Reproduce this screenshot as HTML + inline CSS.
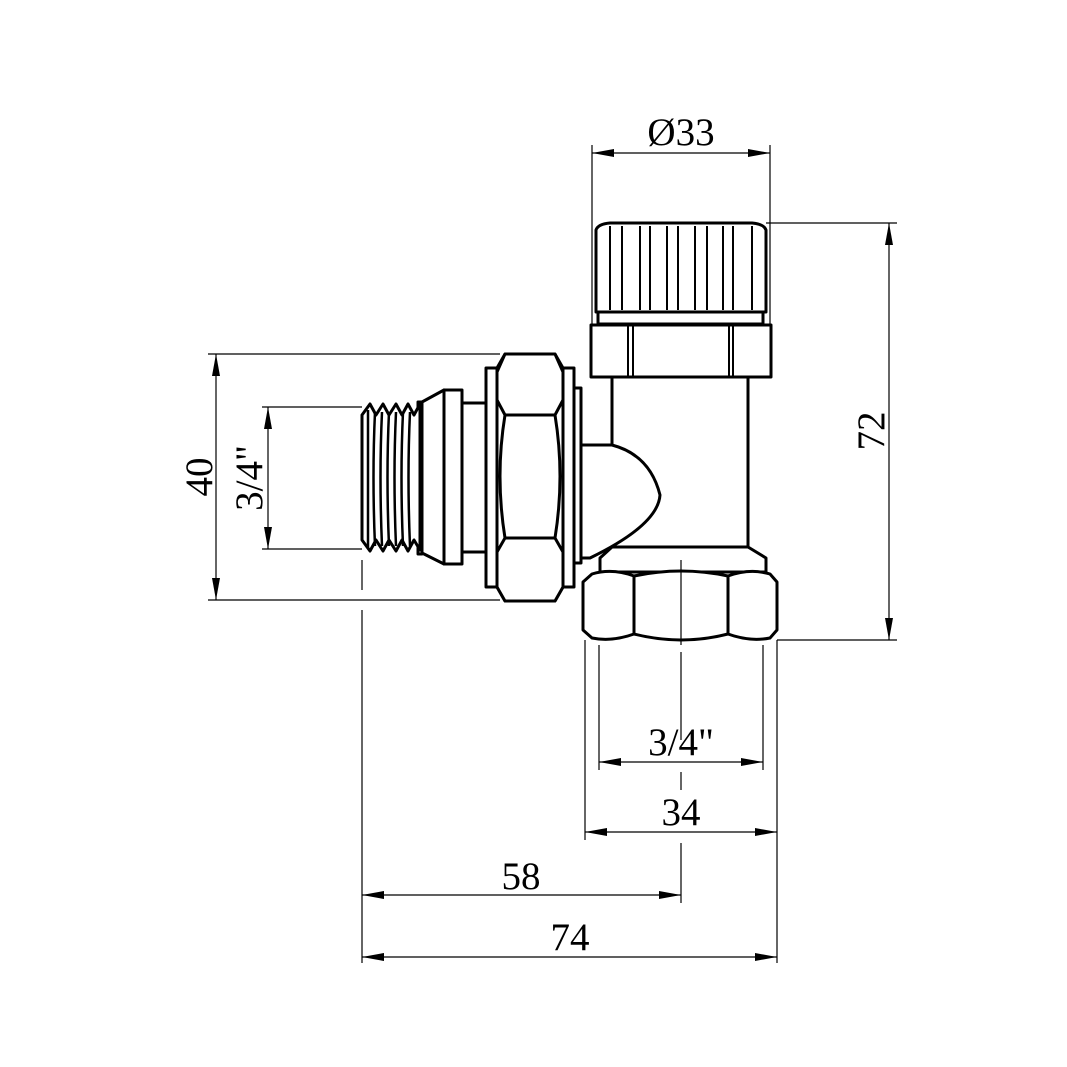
<!DOCTYPE html>
<html><head><style>html,body{margin:0;padding:0;background:#fff}svg{display:block}text{font-family:"Liberation Serif",serif;font-size:39px;fill:#000}</style></head>
<body>
<svg width="1067" height="1067" viewBox="0 0 1067 1067" xmlns="http://www.w3.org/2000/svg">
<defs>
<marker id="a" viewBox="0 0 22 8" refX="22" refY="4" markerWidth="22" markerHeight="8" markerUnits="userSpaceOnUse" orient="auto-start-reverse"><path d="M0,0L22,4L0,8z" fill="#000"/></marker>
</defs>
<g stroke="#000" stroke-width="1.2" fill="none">
<line x1="592" y1="145" x2="592" y2="325"/><line x1="770" y1="145" x2="770" y2="325"/>
<line x1="766" y1="223" x2="897" y2="223"/><line x1="777" y1="640" x2="897" y2="640"/>
<line x1="208" y1="354" x2="500" y2="354"/><line x1="208" y1="600" x2="500" y2="600"/>
<line x1="262" y1="407" x2="362" y2="407"/><line x1="262" y1="549" x2="362" y2="549"/>
<line x1="599" y1="645" x2="599" y2="770"/><line x1="763" y1="645" x2="763" y2="770"/>
<line x1="585" y1="640" x2="585" y2="840"/><line x1="777" y1="640" x2="777" y2="963"/>
<line x1="362" y1="560" x2="362" y2="590"/><line x1="362" y1="610" x2="362" y2="963"/>
<line x1="681" y1="652" x2="681" y2="740"/>
<line x1="681" y1="772" x2="681" y2="790"/>
<line x1="681" y1="843" x2="681" y2="903"/>
<line x1="592" y1="153" x2="770" y2="153" marker-start="url(#a)" marker-end="url(#a)"/>
<line x1="889" y1="223" x2="889" y2="640" marker-start="url(#a)" marker-end="url(#a)"/>
<line x1="216" y1="354" x2="216" y2="600" marker-start="url(#a)" marker-end="url(#a)"/>
<line x1="268" y1="407" x2="268" y2="549" marker-start="url(#a)" marker-end="url(#a)"/>
<line x1="599" y1="762" x2="763" y2="762" marker-start="url(#a)" marker-end="url(#a)"/>
<line x1="585" y1="832" x2="777" y2="832" marker-start="url(#a)" marker-end="url(#a)"/>
<line x1="362" y1="895" x2="681" y2="895" marker-start="url(#a)" marker-end="url(#a)"/>
<line x1="362" y1="957" x2="777" y2="957" marker-start="url(#a)" marker-end="url(#a)"/>
</g>
<g stroke="#000" stroke-width="3" fill="#fff" stroke-linejoin="round">
<path d="M596,312 L596,230 Q598,224 610,223 L752,223 Q764,224 766,230 L766,312 Z"/>
<g stroke-width="2">
<line x1="610" y1="226" x2="610" y2="310"/><line x1="622" y1="226" x2="622" y2="310"/>
<line x1="640" y1="226" x2="640" y2="310"/><line x1="650" y1="226" x2="650" y2="310"/>
<line x1="667" y1="226" x2="667" y2="310"/><line x1="678" y1="226" x2="678" y2="310"/>
<line x1="695" y1="226" x2="695" y2="310"/><line x1="707" y1="226" x2="707" y2="310"/>
<line x1="723" y1="226" x2="723" y2="310"/><line x1="733" y1="226" x2="733" y2="310"/>
<line x1="752" y1="226" x2="752" y2="310"/>
</g>
<rect x="598" y="312" width="165" height="12"/>
<rect x="591" y="325" width="180" height="52"/>
<g stroke-width="2"><line x1="628" y1="326" x2="628" y2="376"/><line x1="633" y1="326" x2="633" y2="376"/><line x1="729" y1="326" x2="729" y2="376"/><line x1="733" y1="326" x2="733" y2="376"/></g>
<rect x="612" y="377" width="136" height="170"/>
<path d="M612,547 L748,547 L766,558 L766,572 L600,572 L600,558 Z"/>
<path d="M581,445 L612,445 Q650,455 660,495 Q658,525 590,558 L581,558 Z"/>
<path d="M583,582 L592,574 Q612,568 634,576 Q681,566 728,576 Q750,568 770,574 L777,582 L777,630 L770,638 Q750,642 728,634 Q681,646 634,634 Q612,642 592,638 L583,630 Z"/>
<line x1="634" y1="576" x2="634" y2="634"/><line x1="728" y1="576" x2="728" y2="634"/>
<rect x="574" y="388" width="7" height="175"/>
<rect x="563" y="368" width="11" height="219"/>
<rect x="486" y="368" width="11" height="219"/>
<path d="M505,354 L555,354 L563,368 L563,587 L555,601 L505,601 L497,587 L497,368 Z"/>
<path d="M505,354 L555,354 L563,372 L563,400 L555,415 L505,415 L497,400 L497,372 Z"/>
<path d="M505,538 L555,538 L563,552 L563,587 L555,601 L505,601 L497,587 L497,552 Z"/>
<path d="M505,415 Q495,476 505,538 M555,415 Q565,476 555,538" fill="none"/>
<rect x="462" y="403" width="24" height="149"/>
<rect x="444" y="390" width="18" height="174"/>
<path d="M422,402 L444,390 L444,564 L422,553 Z"/>
<rect x="418" y="402" width="4" height="152"/>
<path d="M362,415 L370,404 L376,415 L383,404 L389,415 L396,404 L402,415 L408,404 L414,415 L420,404 L420,550 L414,540 L408,551 L402,540 L396,551 L389,540 L383,551 L376,540 L370,551 L362,540 Z"/>
<g stroke-width="2.5" fill="none"><path d="M368,410 L368,548 M375,412 Q372,476 375,546 M382,412 Q379,476 382,546 M389,412 Q386,476 389,546 M396,412 Q393,476 396,546 M403,412 Q400,476 403,546 M410,412 Q407,476 410,546"/></g>
</g>
<line x1="681" y1="560" x2="681" y2="645" stroke="#000" stroke-width="1.2"/>
<text x="681" y="145" text-anchor="middle">Ø33</text>
<text x="681" y="755" text-anchor="middle">3/4"</text>
<text x="681" y="825" text-anchor="middle">34</text>
<text x="521" y="889" text-anchor="middle">58</text>
<text x="570" y="950" text-anchor="middle">74</text>
<text transform="translate(884,431) rotate(-90)" text-anchor="middle">72</text>
<text transform="translate(212,477) rotate(-90)" text-anchor="middle">40</text>
<text transform="translate(262,478) rotate(-90)" text-anchor="middle">3/4"</text>
</svg>
</body></html>
